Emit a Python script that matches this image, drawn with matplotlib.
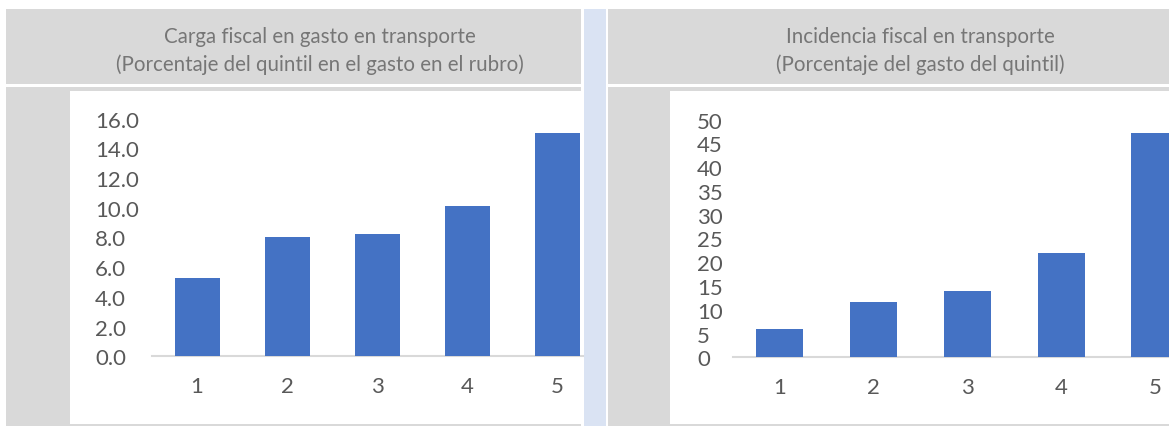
import numpy as np
import matplotlib.pyplot as plt
from matplotlib.patches import Rectangle

# data
quintiles = ['1', '2', '3', '4', '5']
carga = [5.3, 8.0, 8.2, 10.1, 15.0]
incidencia = [5.9, 11.6, 13.9, 21.9, 47.1]
titles = ['Carga fiscal en gasto en transporte\n(Porcentaje del quintil en el gasto en el rubro)',
          'Incidencia fiscal en transporte\n(Porcentaje del gasto del quintil)']

W, H = 1169, 427
plt.rcParams['font.family'] = ['Lato', 'DejaVu Sans']

fig = plt.figure(figsize=(W / 100, H / 100), dpi=100)
fig.patch.set_facecolor('white')

gray = '#D9D9D9'
blue_div = '#DAE3F3'
bar_color = '#4472C4'
txt = '#595959'

# background layer in pixel coords (y from the top)
bg = fig.add_axes([0, 0, 1, 1], zorder=-1)
bg.set_xlim(0, W)
bg.set_ylim(H, 0)
bg.axis('off')


def box(x0, y0, x1, y1, color):
    bg.add_patch(Rectangle((x0, y0), x1 - x0, y1 - y0, color=color, lw=0))


# headers
box(6, 10, 581, 85, gray)
box(608, 10, W, 85, gray)
# divider
box(584, 10, 606, H, blue_div)
# lower panels
box(6, 88, 581, H, gray)
box(608, 88, W, H, gray)
box(70, 92, 583, 425, 'white')
box(670, 92, W, 425, 'white')

bg.text(320, 51, titles[0], ha='center', va='center', fontsize=14.8,
        color='#767676', linespacing=1.4)
bg.text(920, 51, titles[1], ha='center', va='center', fontsize=14.8,
        color='#767676', linespacing=1.4)


def add_ax(x0, x1, y_top, y_base, step):
    ax = fig.add_axes([x0 / W, 1 - y_base / H, (x1 - x0) / W, (y_base - y_top) / H])
    ax.set_facecolor('none')
    ax.set_xlim(0.5, 0.5 + (x1 - x0) / step)
    for s in ['top', 'right', 'left']:
        ax.spines[s].set_visible(False)
    ax.spines['bottom'].set_color('#D9D9D9')
    ax.spines['bottom'].set_linewidth(1.5)
    ax.tick_params(length=0, labelsize=16, labelcolor=txt)
    return ax


x = np.arange(1, 6)

ax1 = add_ax(152, 583, 119.5, 357.3, 90)
ax1.bar(x, carga, width=0.5, color=bar_color, zorder=3)
ax1.set_ylim(0, 16)
ax1.set_yticks(np.arange(0, 17, 2))
ax1.set_yticklabels(['%.1f' % v for v in np.arange(0, 17, 2)])
ax1.set_xticks(x)
ax1.set_xticklabels(quintiles)
ax1.tick_params(axis='y', pad=41)
ax1.tick_params(axis='x', pad=14)
for lb in ax1.get_yticklabels():
    lb.set_ha('left')

ax2 = add_ax(733, W, 120.5, 358.3, 93.75)
ax2.bar(x, incidencia, width=0.5, color=bar_color, zorder=3)
ax2.set_ylim(0, 50)
ax2.set_yticks(np.arange(0, 51, 5))
ax2.set_xticks(x)
ax2.set_xticklabels(quintiles)
ax2.tick_params(axis='y', pad=26)
ax2.tick_params(axis='x', pad=14)
for lb in ax2.get_yticklabels():
    lb.set_ha('left')

fig.savefig('out.png', dpi=100)
